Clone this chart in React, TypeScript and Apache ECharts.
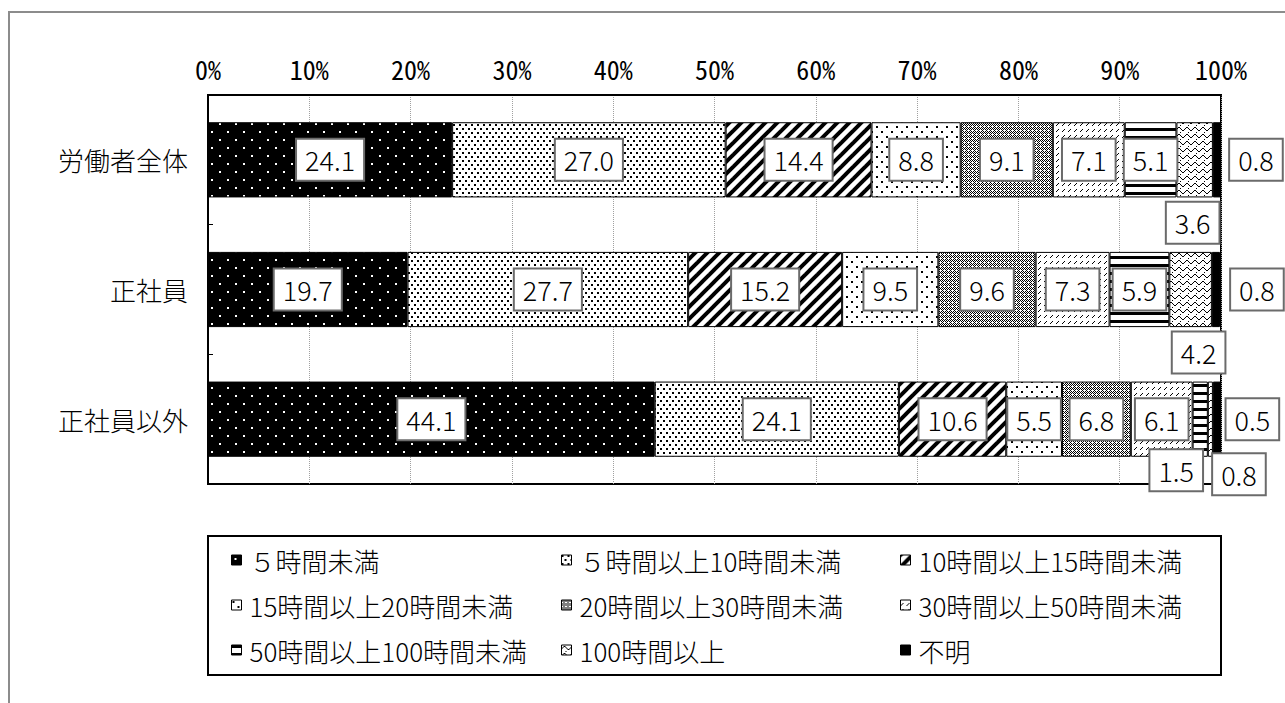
import React, { useEffect, useRef } from "react";
import * as echarts from "echarts";

const categories = ["労働者全体", "正社員", "正社員以外"];
const seriesNames = [
  "５時間未満",
  "５時間以上10時間未満",
  "10時間以上15時間未満",
  "15時間以上20時間未満",
  "20時間以上30時間未満",
  "30時間以上50時間未満",
  "50時間以上100時間未満",
  "100時間以上",
  "不明",
];
const under5 = [24.1, 19.7, 44.1];
const h5to10 = [27.0, 27.7, 24.1];
const h10to15 = [14.4, 15.2, 10.6];
const h15to20 = [8.8, 9.5, 5.5];
const h20to30 = [9.1, 9.6, 6.8];
const h30to50 = [7.1, 7.3, 6.1];
const h50to100 = [5.1, 5.9, 1.5];
const over100 = [3.6, 4.2, 0.5];
const unknown = [0.8, 0.8, 0.8];
const seriesValues = [under5, h5to10, h10to15, h15to20, h20to30, h30to50, h50to100, over100, unknown];
const xTickValues = [0, 10, 20, 30, 40, 50, 60, 70, 80, 90, 100];

// label offsets (px) for labels moved outside their segments: [seriesIndex][rowIndex]
const labelOffsets: Record<number, Record<number, [number, number]>> = {
  6: { 2: [-24, 51] },
  7: { 0: [-2, 63], 1: [8, 63], 2: [42, 0] },
  8: { 0: [39, 0], 1: [41, 0], 2: [22, 55] },
};

const legendColumns = [
  [0, 3, 6],
  [1, 4, 7],
  [2, 5, 8],
];
const legendLefts = [231, 561, 900];

const monoFont = "'Noto Sans Mono CJK JP', 'DejaVu Sans Mono', monospace";
const jpFont = "'Noto Sans CJK JP', sans-serif";

function tile(w: number, h: number, bg: string, draw: (ctx: CanvasRenderingContext2D) => void) {
  const c = document.createElement("canvas");
  c.width = w;
  c.height = h;
  const ctx = c.getContext("2d")!;
  ctx.fillStyle = bg;
  ctx.fillRect(0, 0, w, h);
  ctx.fillStyle = "#000";
  ctx.strokeStyle = "#000";
  draw(ctx);
  return { image: c.toDataURL(), repeat: "repeat", imageWidth: w, imageHeight: h } as any;
}

function makePatterns(): any[] {
  const p1 = tile(16, 16, "#000", (ctx) => {
    ctx.fillStyle = "#fff";
    ctx.fillRect(3, 3, 2, 2);
    ctx.fillRect(11, 11, 2, 2);
  });
  const p2 = tile(6, 8, "#fff", (ctx) => {
    ctx.fillRect(0, 0, 2, 2);
    ctx.fillRect(3, 4, 2, 2);
  });
  const p3 = tile(12, 12, "#fff", (ctx) => {
    ctx.lineWidth = 4;
    const seg = (x0: number, y0: number, x1: number, y1: number) => {
      ctx.beginPath();
      ctx.moveTo(x0, y0);
      ctx.lineTo(x1, y1);
      ctx.stroke();
    };
    seg(-2, 14, 14, -2);
    seg(-8, 8, 8, -8);
    seg(4, 20, 20, 4);
  });
  const p4 = tile(10, 10, "#fff", (ctx) => {
    ctx.fillRect(1, 1, 2, 2);
    ctx.fillRect(6, 6, 2, 2);
  });
  const p5 = tile(4, 4, "#fff", (ctx) => {
    for (let x = 0; x < 4; x++)
      for (let y = 0; y < 4; y++)
        if ((x + y) % 4 === 0 || (x - y + 4) % 4 === 0) ctx.fillRect(x, y, 1, 1);
    ctx.fillRect(2, 0, 1, 1);
  });
  const p6 = tile(6, 6, "#fff", (ctx) => {
    ctx.fillRect(0, 5, 1, 1);
    ctx.fillRect(1, 4, 1, 1);
    ctx.fillRect(2, 3, 1, 1);
  });
  const p7 = tile(4, 8, "#fff", (ctx) => {
    ctx.fillRect(0, 0, 4, 3);
  });
  const p8 = tile(8, 7, "#fff", (ctx) => {
    const ys = [3, 2, 1, 1, 2, 3, 4, 4];
    ys.forEach((y, x) => ctx.fillRect(x, y, 1, 1));
    ctx.fillRect(4, 6, 1, 1);
  });
  return [p1, p2, p3, p4, p5, p6, p7, p8, "#000"];
}

export default function App() {
  const ref = useRef<HTMLDivElement>(null);
  useEffect(() => {
    if (!ref.current) return;
    const chart = echarts.init(ref.current, null, { renderer: "svg" });
    const patterns = makePatterns();

    const series = seriesNames.map((name, si) => ({
      name,
      type: "bar",
      stack: "total",
      barCategoryGap: "42%",
      itemStyle: { color: patterns[si], borderColor: "#000", borderWidth: 1 },
      emphasis: { disabled: true },
      label: {
        show: true,
        position: "inside",
        formatter: (p: any) => Number(p.value).toFixed(1),
        color: "#000",
        fontFamily: jpFont,
        fontWeight: 300,
        fontSize: 27,
        lineHeight: 27,
        backgroundColor: "#fff",
        borderColor: "#6b6b6b",
        borderWidth: 2,
        padding: [7, 8, 6, 8],
      },
      data: seriesValues[si].map((v, ri) => {
        const off = labelOffsets[si] && labelOffsets[si][ri];
        return off ? { value: v, label: { offset: off } } : v;
      }),
    }));

    const legends = legendColumns.map((col, ci) => ({
      orient: "vertical",
      left: legendLefts[ci],
      top: 547,
      padding: 0,
      itemGap: 19,
      itemWidth: 10,
      itemHeight: 10,
      selectedMode: false,
      icon: "rect",
      itemStyle: { borderColor: "#000", borderWidth: 1 },
      textStyle: {
        fontFamily: jpFont,
        fontWeight: 300,
        fontSize: 26,
        lineHeight: 26,
        color: "#000",
        padding: [0, 0, 0, 3],
      },
      data: col.map((i) => seriesNames[i]),
    }));

    chart.setOption({
      animation: false,
      backgroundColor: "#fff",
      grid: {
        left: 208,
        right: 64,
        top: 95,
        bottom: 219,
        show: true,
        borderColor: "#000",
        borderWidth: 2,
        backgroundColor: "transparent",
      },
      legend: legends,
      xAxis: {
        type: "value",
        position: "top",
        min: xTickValues[0],
        max: xTickValues[xTickValues.length - 1],
        interval: xTickValues[1] - xTickValues[0],
        axisLine: { show: true, lineStyle: { color: "#000", width: 2 } },
        axisTick: { show: false },
        axisLabel: {
          formatter: "{value}%",
          fontFamily: monoFont,
          fontSize: 26,
          color: "#000",
          margin: 14,
        },
        splitLine: { show: true, lineStyle: { color: "#a0a0a0", type: "dotted", width: 1 } },
      },
      yAxis: {
        type: "category",
        inverse: true,
        data: categories,
        axisLine: { show: true, lineStyle: { color: "#000", width: 2 } },
        axisTick: { show: true, inside: true, length: 5, lineStyle: { color: "#000" } },
        axisLabel: { fontFamily: jpFont, fontWeight: 300, fontSize: 26, color: "#000", margin: 20 },
      },
      graphic: [
        {
          type: "rect",
          shape: { x: 9, y: 12, width: 1300, height: 720 },
          style: { fill: "none", stroke: "#8c8c8c", lineWidth: 2 },
          silent: true,
        },
        {
          type: "rect",
          shape: { x: 208, y: 536, width: 1013, height: 139 },
          style: { fill: "none", stroke: "#000", lineWidth: 2 },
          silent: true,
        },
      ],
      series,
    } as any);
    return () => chart.dispose();
  }, []);
  return <div ref={ref} style={{ position: "fixed", left: 0, top: 0, width: 1285, height: 703 }} />;
}
